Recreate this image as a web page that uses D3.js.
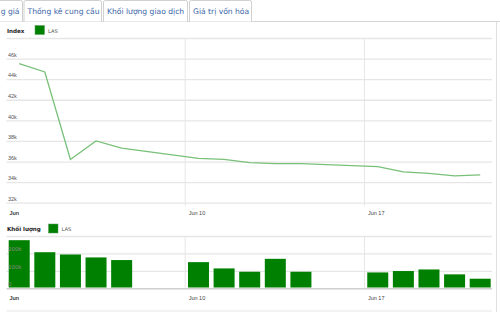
<!DOCTYPE html>
<html>
<head>
<meta charset="utf-8">
<script src="https://cdn.jsdelivr.net/npm/d3@7"></script>
<style>
body { margin: 0; background: #fff; }
svg { display: block; font-family: "DejaVu Sans", Verdana, sans-serif; }
</style>
</head>
<body>
<svg id="chart" width="500" height="312"></svg>
<script>
// tabs across the top (first one is scrolled off to the left)
const tabs = ["g giá", "Thống kê cung cầu", "Khối lượng giao dịch", "Giá trị vốn hóa"];
const tabEdges = [[-60, 22.5], [24, 101.5], [103.5, 187.5], [189.5, 251.5]];

// trading days and values (index in thousands, volume in thousands)
const days = ["2013-06-03", "2013-06-04", "2013-06-05", "2013-06-06", "2013-06-07",
              "2013-06-10", "2013-06-11", "2013-06-12", "2013-06-13", "2013-06-14",
              "2013-06-17", "2013-06-18", "2013-06-19", "2013-06-20", "2013-06-21"];
const indexVals = [45.5, 44.7, 36.2, 38.0, 37.3, 36.3, 36.2, 35.9, 35.8, 35.8, 35.5, 35.0, 34.85, 34.6, 34.7];
const volumeVals = [276, 207, 194, 177, 162, 150, 114, 95, 169, 95, 91, 99, 108, 80, 55];

const indexTicks = [32, 34, 36, 38, 40, 42, 44, 46, 48];
const volumeTicks = [0, 100, 200, 300];
const dateTicks = ["2013-06-03", "2013-06-10", "2013-06-17"];

const parse = d3.timeParse("%Y-%m-%d");
const data = days.map((d, i) => ({
  date: d3.timeHour.offset(parse(d), 12),
  idx: indexVals[i],
  vol: volumeVals[i]
}));
const tickDates = dateTicks.map(parse);

const svg = d3.select("#chart");
const green = "#008000";
const gridCol = "#e6e6e6";

// ---- tabs
svg.append("line").attr("x1", 0).attr("x2", 500).attr("y1", 21.5).attr("y2", 21.5)
  .attr("stroke", "#d4d4d4");
tabs.forEach((t, i) => {
  const [a, b] = tabEdges[i];
  svg.append("path")
    .attr("d", `M${a},21.5 V2 Q${a},0.5 ${a + 2},0.5 H${b - 2} Q${b},0.5 ${b},2 V21.5`)
    .attr("fill", "#fff").attr("stroke", "#d0d0d0");
  svg.append("text").attr("x", i == 0 ? b - 3 : a + 3.5).attr("y", 14)
    .attr("text-anchor", i == 0 ? "end" : "start")
    .attr("font-size", 7.6).attr("fill", "#3a66a8").text(t);
});

// right border
svg.append("line").attr("x1", 496.5).attr("x2", 496.5).attr("y1", 22).attr("y2", 312)
  .attr("stroke", "#e0e0e0");

const x = d3.scaleTime()
  .domain([parse("2013-06-03"), parse("2013-06-22")])
  .range([6.4, 493]);

const left = 6.5, right = 492;

function legend(label, lx, ly, sx) {
  svg.append("text").attr("x", lx).attr("y", ly).attr("font-size", 5.6)
    .attr("font-weight", "bold").attr("fill", "#222").text(label);
  svg.append("rect").attr("x", sx).attr("y", ly - 7).attr("width", 9.5).attr("height", 9)
    .attr("fill", green).attr("stroke", "#5a9a5a").attr("stroke-width", 0.5);
  svg.append("text").attr("x", sx + 13).attr("y", ly).attr("font-size", 5.2)
    .attr("fill", "#555").text("LAS");
}

function dateAxis(yPos, gTop, gBottom) {
  const g = svg.append("g").attr("transform", `translate(0,${yPos})`)
    .call(d3.axisBottom(x).tickValues(tickDates).tickSize(0)
      .tickFormat((d, i) => i == 0 ? "Jun" : d3.timeFormat("%b %d")(d)));
  g.select(".domain").remove();
  g.selectAll("text").attr("text-anchor", "start").attr("dx", 2.5).attr("dy", 0)
    .attr("y", 0).attr("font-size", 5.5).attr("fill", "#444")
    .attr("font-weight", (d, i) => i == 0 ? "bold" : "normal");
  svg.append("g").selectAll("line").data(tickDates.slice(1)).join("line")
    .attr("x1", d => x(d) - 0.5).attr("x2", d => x(d) - 0.5)
    .attr("y1", gTop).attr("y2", gBottom)
    .attr("stroke", gridCol).attr("stroke-width", 1);
}

// ---- index line chart
legend("Index", 7, 32.5, 35);

const y = d3.scaleLinear().domain([32, 48]).range([202.7, 38]);

dateAxis(215, 38, 206);

const yg = svg.append("g").attr("transform", `translate(${right},0)`)
  .call(d3.axisLeft(y).tickValues(indexTicks).tickSize(right - left).tickFormat(d => d == 48 ? "" : d + "k"));
yg.select(".domain").remove();
yg.selectAll("line").attr("stroke", gridCol).attr("stroke-width", 1.3);
yg.selectAll("text").attr("text-anchor", "start").attr("x", -(right - 8)).attr("dy", -2.2)
  .attr("font-size", 5.5).attr("fill", "#555");

svg.append("path").datum(data)
  .attr("d", d3.line().x(d => x(d.date)).y(d => y(d.idx)))
  .attr("fill", "none").attr("stroke", "#78c078").attr("stroke-width", 1.3);

// ---- volume bar chart
legend("Khối lượng", 7, 231, 48.5);

const yv = d3.scaleLinear().domain([0, 300]).range([288.3, 236]);

dateAxis(299.5, 236, 288);

const vg = svg.append("g").attr("transform", `translate(${right},0)`)
  .call(d3.axisLeft(yv).tickValues(volumeTicks).tickSize(right - left).tickFormat(() => ""));
vg.select(".domain").remove();
vg.selectAll("line").attr("stroke", d => d == 0 ? "#cfcfcf" : gridCol)
  .attr("stroke-width", d => d == 0 ? 1.6 : 1.3);

const bw = 21;
svg.append("g").selectAll("rect").data(data).join("rect")
  .attr("x", d => x(d.date) - bw / 2)
  .attr("width", bw)
  .attr("y", d => yv(d.vol))
  .attr("height", d => yv(0) - yv(d.vol) - 0.8)
  .attr("fill", green);

svg.append("g").selectAll("text").data(volumeTicks.slice(0, 3)).join("text")
  .attr("x", 8).attr("y", d => yv(d) - 2.2)
  .attr("font-size", 5.5).attr("fill", "#8a8a8a")
  .text(d => d == 0 ? "0" : d + "k");

// bottom line
svg.append("line").attr("x1", left).attr("x2", right).attr("y1", 311).attr("y2", 311)
  .attr("stroke", "#e6e6e6");
</script>
</body>
</html>
